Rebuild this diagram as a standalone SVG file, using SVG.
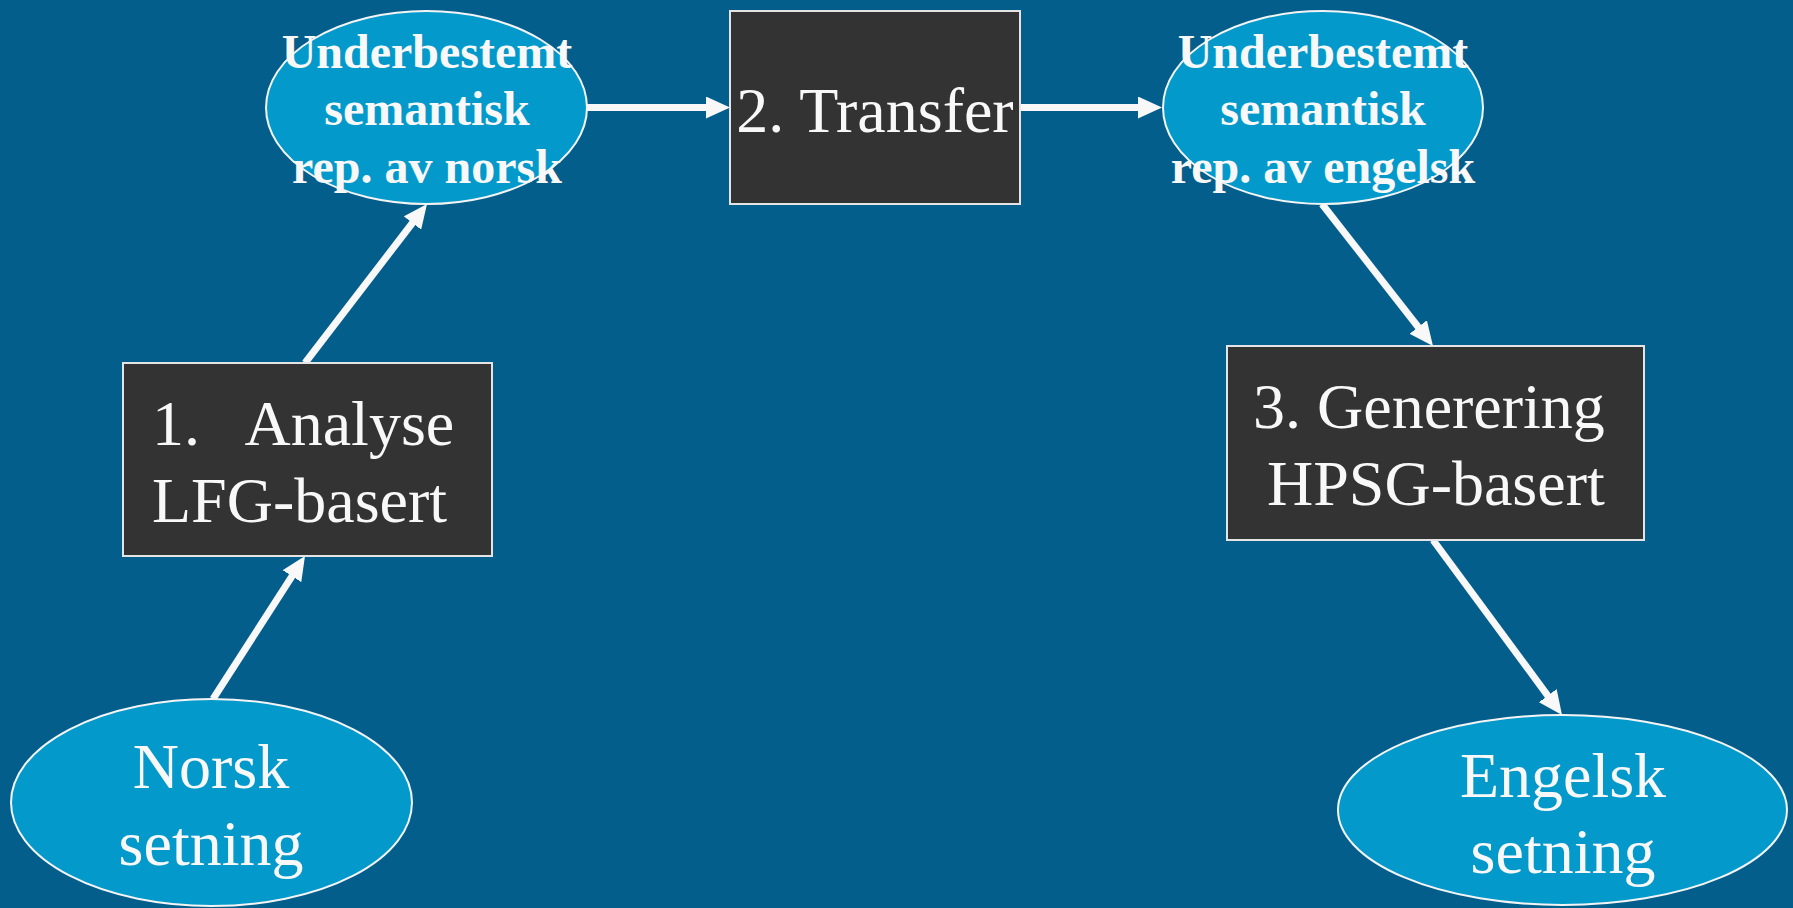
<svg xmlns="http://www.w3.org/2000/svg" width="1793" height="908" viewBox="0 0 1793 908">
  <style>
    .bg { fill: #035E8C; }
    .oval { fill: #039ACB; stroke: #F4F4F4; stroke-width: 2; }
    .step { fill: #333333; stroke: #E4E4E4; stroke-width: 2; }
    .lbl { font-family: "Liberation Serif", "Times New Roman", serif; fill: #F8F8F8; }
    .big { font-size: 64px; }
    .small { font-size: 48px; font-weight: bold; }
    .mid { text-anchor: middle; }
    .edge { fill: none; stroke: #F8F8F8; stroke-width: 7; }
  </style>
  <defs>
    <marker id="head" markerUnits="userSpaceOnUse" markerWidth="24" markerHeight="22" viewBox="0 0 24 22" refX="12" refY="11" orient="auto">
      <path d="M0,0 L24,11 L0,22 z" fill="#F8F8F8"/>
    </marker>
  </defs>

  <rect class="bg" x="0" y="0" width="1793" height="908"/>

  <!-- connectors -->
  <g id="connectors">
    <path class="edge" d="M213,699 L298.5,566.1" marker-end="url(#head)"/>
    <path class="edge" d="M305,363 L419.7,213.5" marker-end="url(#head)"/>
    <path class="edge" d="M587,107.5 L718,107.5" marker-end="url(#head)"/>
    <path class="edge" d="M1020,107.5 L1150,107.5" marker-end="url(#head)"/>
    <path class="edge" d="M1322,204 L1425.6,336.5" marker-end="url(#head)"/>
    <path class="edge" d="M1433,540 L1554.9,705.3" marker-end="url(#head)"/>
  </g>

  <!-- source sentence -->
  <g id="norsk-setning">
    <ellipse class="oval" cx="211.5" cy="802.5" rx="200.5" ry="103.5"/>
    <text class="lbl big mid" x="211" y="788">Norsk</text>
    <text class="lbl big mid" x="211" y="865">setning</text>
  </g>

  <!-- step 1 -->
  <g id="analyse">
    <rect class="step" x="123" y="363" width="369" height="193"/>
    <text class="lbl big" x="152" y="445" xml:space="preserve">1.   Analyse</text>
    <text class="lbl big" x="152" y="522">LFG-basert</text>
  </g>

  <!-- Norwegian semantic representation -->
  <g id="sem-norsk">
    <ellipse class="oval" cx="426.5" cy="107.5" rx="160.5" ry="96.5"/>
    <text class="lbl small mid" x="427" y="68">Underbestemt</text>
    <text class="lbl small mid" x="427" y="125">semantisk</text>
    <text class="lbl small mid" x="427" y="183">rep. av norsk</text>
  </g>

  <!-- step 2 -->
  <g id="transfer">
    <rect class="step" x="730" y="11" width="290" height="193"/>
    <text class="lbl big mid" x="875" y="132">2. Transfer</text>
  </g>

  <!-- English semantic representation -->
  <g id="sem-engelsk">
    <ellipse class="oval" cx="1323" cy="107.5" rx="160" ry="96.5"/>
    <text class="lbl small mid" x="1323" y="68">Underbestemt</text>
    <text class="lbl small mid" x="1323" y="125">semantisk</text>
    <text class="lbl small mid" x="1323" y="183">rep. av engelsk</text>
  </g>

  <!-- step 3 -->
  <g id="generering">
    <rect class="step" x="1227" y="346" width="417" height="194"/>
    <text class="lbl big" x="1253" y="428">3. Generering</text>
    <text class="lbl big" x="1267" y="505">HPSG-basert</text>
  </g>

  <!-- target sentence -->
  <g id="engelsk-setning">
    <ellipse class="oval" cx="1562.5" cy="810" rx="224.5" ry="95"/>
    <text class="lbl big mid" x="1563" y="797">Engelsk</text>
    <text class="lbl big mid" x="1563" y="873">setning</text>
  </g>
</svg>
